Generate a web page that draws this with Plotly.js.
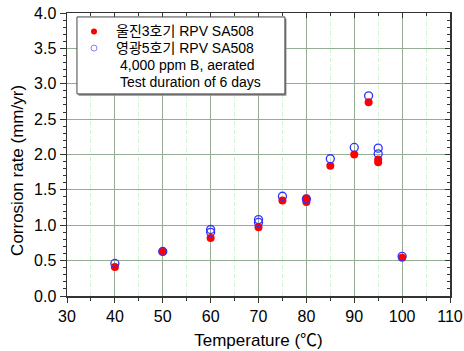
<!DOCTYPE html>
<html>
<head>
<meta charset="utf-8">
<script src="https://cdn.plot.ly/plotly-3.0.1.min.js"></script>
<style>html,body{margin:0;padding:0;background:#fff;}#chart{width:464px;height:351px;}</style>
</head>
<body>
<div id="chart"></div>
<script>
// Data
const seriesUljinName = "울진3호기 RPV SA508";
const uljinTemp = [40, 50, 60, 70, 75, 80, 80, 85, 90, 93, 95, 95, 100];
const uljinRate = [0.41, 0.63, 0.82, 0.97, 1.35, 1.33, 1.38, 1.84, 2.00, 2.74, 1.89, 1.93, 0.54];

const seriesYGName = "영광5호기 RPV SA508";
const ygTemp = [40, 50, 60, 60, 70, 70, 75, 80, 85, 90, 93, 95, 95, 100];
const ygRate = [0.46, 0.63, 0.94, 0.90, 1.08, 1.04, 1.41, 1.37, 1.94, 2.10, 2.83, 2.09, 2.01, 0.56];

const noteLines = ["4,000 ppm B, aerated", "Test duration of 6 days"];
const xTitle = "Temperature (℃)";
const yTitle = "Corrosion rate (mm/yr)";

const FONT = "Liberation Sans, Arial, Noto Sans CJK KR, sans-serif";
const RED = "#ff0000", BLUE = "#3030ff";

const traces = [
  {x: uljinTemp, y: uljinRate, name: seriesUljinName, type: "scatter", mode: "markers",
   marker: {symbol: "circle", size: 8, color: RED, line: {width: 0}}},
  {x: ygTemp, y: ygRate, name: seriesYGName, type: "scatter", mode: "markers",
   marker: {symbol: "circle-open", size: 8, color: BLUE, line: {width: 1.3}}},
  {x: [null], y: [null], xaxis: "x2", yaxis: "y2", showlegend: false, hoverinfo: "skip",
   type: "scatter", mode: "markers"}
];

// Legend box geometry (paper coordinates)
const lgX0 = 0.026, lgX1 = 0.569, lgY0 = 0.714, lgY1 = 0.986;
const keyX = 0.0705, textX = 0.124, noteX = 0.134;
const rowY = [0.935, 0.876, 0.817, 0.757];
const rx = 3 / 383, ry = 3 / 283;

const shapes = [
  {type: "rect", xref: "paper", yref: "paper", x0: lgX0 + 0.004, x1: lgX1 + 0.004, y0: lgY0 - 0.006, y1: lgY1 - 0.006,
   fillcolor: "#8a8a8a", line: {width: 0}, layer: "above"},
  {type: "rect", xref: "paper", yref: "paper", x0: lgX0, x1: lgX1, y0: lgY0, y1: lgY1,
   fillcolor: "#fff", line: {color: "#444", width: 1}, layer: "above"},
  {type: "circle", xref: "paper", yref: "paper", x0: keyX - rx, x1: keyX + rx, y0: rowY[0] - ry, y1: rowY[0] + ry,
   fillcolor: RED, line: {width: 0}, layer: "above"},
  {type: "circle", xref: "paper", yref: "paper", x0: keyX - rx, x1: keyX + rx, y0: rowY[1] - ry, y1: rowY[1] + ry,
   fillcolor: "rgba(0,0,0,0)", line: {color: "#8080ff", width: 1}, layer: "above"}
];

const legendTexts = [seriesUljinName, seriesYGName, noteLines[0], noteLines[1]];
const annotations = legendTexts.map((t, i) => ({
  xref: "paper", yref: "paper", x: i < 2 ? textX : noteX, y: rowY[i],
  xanchor: "left", yanchor: "middle", showarrow: false, text: t,
  font: {family: FONT, size: 14, color: "#000"}
}));
annotations.push({
  xref: "paper", yref: "paper", x: -0.131, y: 0.445, xanchor: "center", yanchor: "middle",
  textangle: -90, showarrow: false, text: yTitle, font: {family: FONT, size: 17, color: "#000"}
});

const layout = {
  width: 464, height: 351,
  margin: {l: 67, r: 14, t: 13, b: 55},
  paper_bgcolor: "#fff", plot_bgcolor: "#fff",
  font: {family: FONT, size: 16, color: "#000"},
  showlegend: false,
  shapes: shapes,
  annotations: annotations,
  xaxis: {range: [30, 110], dtick: 10, tick0: 30, showgrid: true,
          gridcolor: "#94ad94", gridwidth: 1, zeroline: false,
          showline: true, linecolor: "#333", linewidth: 1.5,
          ticks: "outside", ticklen: 5, tickcolor: "#333", tickwidth: 1,
          minor: {dtick: 5, showgrid: true, gridcolor: "#cdf5cd", griddash: "4px,2px,1px,2px",
                  gridwidth: 1, ticks: "outside", ticklen: 3, tickcolor: "#333"},
          title: {text: xTitle, font: {size: 17}, standoff: 10},
          tickfont: {size: 16}},
  yaxis: {range: [0, 4], dtick: 0.5, tick0: 0, tickformat: ".1f", showgrid: true,
          gridcolor: "#94ad94", gridwidth: 1, zeroline: false,
          showline: true, linecolor: "#333", linewidth: 1.5,
          ticks: "outside", ticklen: 6, tickcolor: "#333", tickwidth: 1,
          minor: {dtick: 0.1, showgrid: false, ticks: "outside", ticklen: 3, tickcolor: "#333"},
          tickfont: {size: 16}},
  xaxis2: {overlaying: "x", side: "top", anchor: "y", matches: "x", range: [30, 110],
           dtick: 10, tick0: 30, showgrid: false, zeroline: false, showticklabels: false,
           showline: true, linecolor: "#333", linewidth: 1.5,
           ticks: "inside", ticklen: 5, tickcolor: "#333",
           minor: {dtick: 5, ticks: "inside", ticklen: 3, tickcolor: "#333", showgrid: false}},
  yaxis2: {overlaying: "y", side: "right", anchor: "x", range: [0, 4],
           dtick: 0.5, tick0: 0, showgrid: false, zeroline: false, showticklabels: false,
           showline: true, linecolor: "#333", linewidth: 1.5,
           ticks: "inside", ticklen: 5, tickcolor: "#333",
           minor: {dtick: 0.1, ticks: "inside", ticklen: 3, tickcolor: "#333", showgrid: false}}
};

Plotly.newPlot("chart", traces, layout, {displayModeBar: false, staticPlot: true});
</script>
</body>
</html>
